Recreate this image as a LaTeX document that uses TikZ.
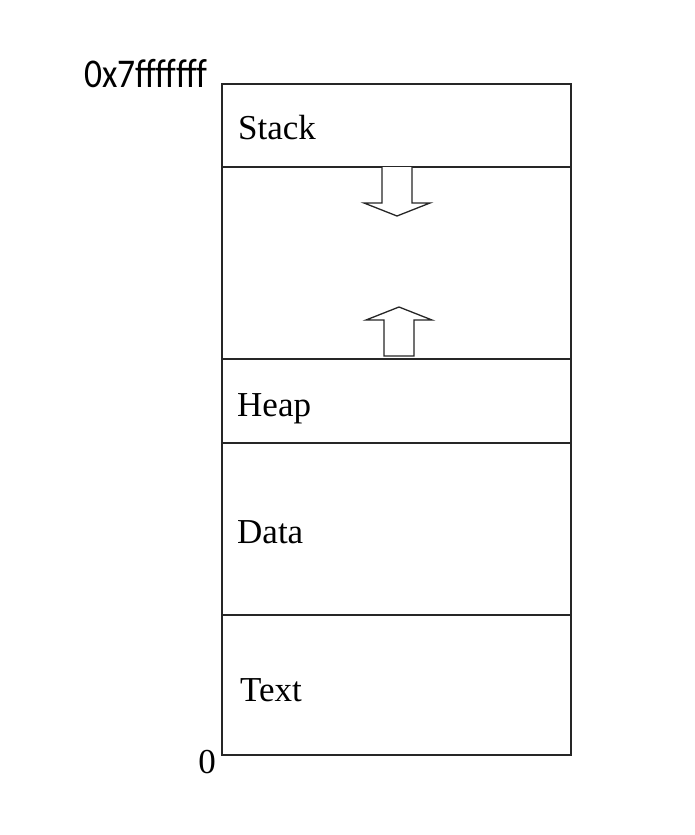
\documentclass[tikz,border=0pt]{standalone}
\usepackage{fontspec}
\setmainfont{Liberation Serif}
\newfontfamily\labelsans{Carlito}
\begin{document}
\begin{tikzpicture}[x=1pt,y=-1pt,
  seglabel/.style={anchor=base west,inner sep=0pt,font=\fontsize{35}{40}\selectfont},
  box/.style={draw=black!85,line width=1.6pt},
  fatarrow/.style={draw=black!85,line width=1.3pt,fill=white,line join=miter}]
\useasboundingbox (0,0) rectangle (695,835);
% outer memory block
\draw[box] (222,84) rectangle (571,755);
\draw[box] (222,167) -- (571,167);
\draw[box] (222,359) -- (571,359);
\draw[box] (222,443) -- (571,443);
\draw[box] (222,615) -- (571,615);
% growth arrows
\draw[fatarrow] (382,167) -- (382,203) -- (364,203) -- (397,216) -- (430,203) -- (412,203) -- (412,167);
\draw[fatarrow] (384,356) -- (384,320) -- (366,320) -- (399,307) -- (432,320) -- (414,320) -- (414,356) -- cycle;
% labels
\node[seglabel] (stack) at (238,139) {Stack};
\node[seglabel] (heap) at (237,416) {Heap};
\node[seglabel] (data) at (237,543) {Data};
\node[seglabel] (text) at (240,701) {Text};
\node[anchor=base west,inner sep=0pt,font=\labelsans\fontsize{35.5}{40}\selectfont] (top) at (84,87) {\scalebox{1}[1.15]{0x7fffffff}};
\node[anchor=base east,inner sep=0pt,font=\fontsize{35}{40}\selectfont] (zero) at (216,773) {0};
\end{tikzpicture}
\end{document}
